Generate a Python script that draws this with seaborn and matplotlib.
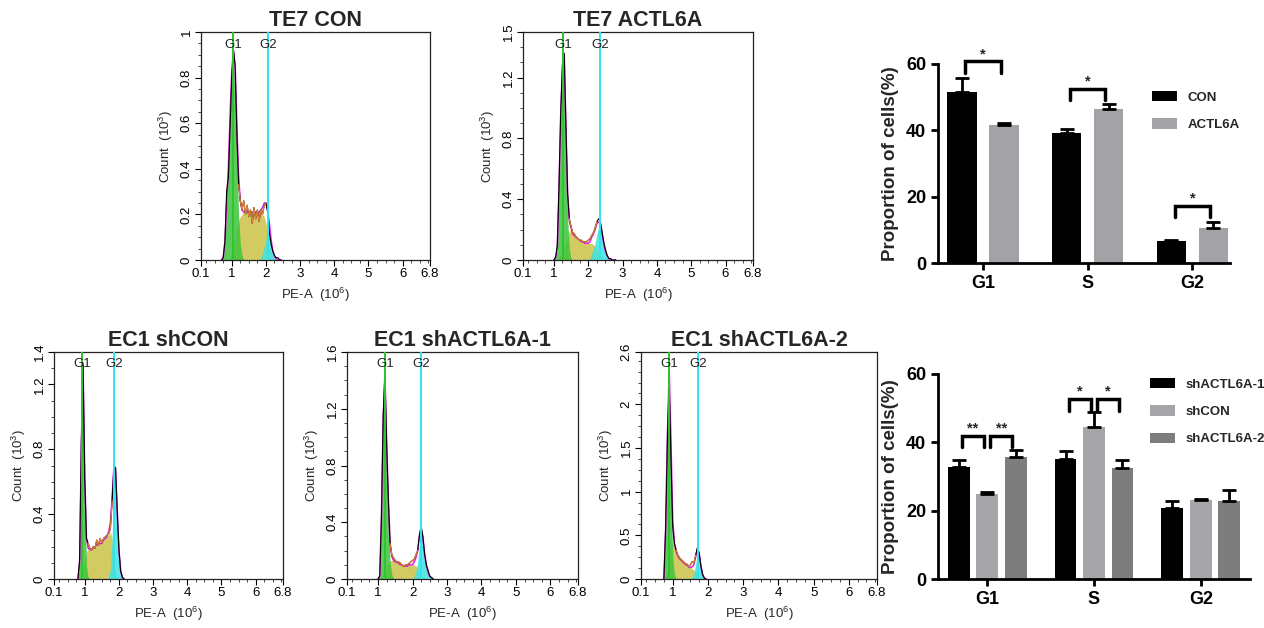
import numpy as np
import pandas as pd
import matplotlib
matplotlib.use("Agg")
import matplotlib.pyplot as plt
from matplotlib.patches import Patch
from matplotlib.ticker import MultipleLocator
import seaborn as sns

# ── DATA ──────────────────────────────────────────────────────────────────────
PHASES = ["G1", "S", "G2"]

# TE7 bar chart (mean, upper SD)
TE7_GROUPS = ["CON", "ACTL6A"]
TE7_MEAN_CON = [51.5, 39.1, 6.6]
TE7_ERR_CON = [4.2, 1.2, 0.4]
TE7_MEAN_ACTL6A = [41.7, 46.4, 10.6]
TE7_ERR_ACTL6A = [0.5, 1.5, 1.8]
TE7_SIG_Y = [60.8, 52.4, 17.2]
TE7_SIG_TXT = ["*", "*", "*"]

# EC1 bar chart
EC1_GROUPS = ["shACTL6A-1", "shCON", "shACTL6A-2"]
EC1_MEAN_SH1 = [32.9, 35.2, 20.7]
EC1_ERR_SH1 = [1.8, 2.2, 2.0]
EC1_MEAN_SHCON = [24.8, 44.6, 23.1]
EC1_ERR_SHCON = [0.7, 4.2, 0.3]
EC1_MEAN_SH2 = [35.8, 32.6, 22.8]
EC1_ERR_SH2 = [2.0, 2.3, 3.2]
EC1_SIG_Y = [41.9, 52.6]          # G1, S
EC1_SIG_TXT = ["**", "*"]

# flow histograms: PE-A (10^6) grid, raw counts and fitted G1 / S / G2 parts (10^3)
TE7CON_X = [0.70, 0.75, 0.80, 0.85, 0.90, 0.95, 1.00, 1.05, 1.10, 1.15, 1.20, 1.25,
            1.30, 1.35, 1.40, 1.45, 1.50, 1.55, 1.60, 1.65, 1.70, 1.75, 1.80, 1.85,
            1.90, 1.95, 2.00, 2.05, 2.10, 2.15, 2.20, 2.25, 2.30, 2.35, 2.40, 2.45]
TE7CON_TOTAL = [0.00, 0.01, 0.08, 0.30, 0.36, 0.58, 0.80, 0.92, 0.85, 0.55, 0.33, 0.26,
                0.22, 0.26, 0.20, 0.24, 0.19, 0.22, 0.16, 0.23, 0.18, 0.22, 0.17, 0.22,
                0.20, 0.24, 0.25, 0.21, 0.12, 0.07, 0.04, 0.02, 0.01, 0.01, 0.00, 0.00]
TE7CON_G1 = [0.00, 0.01, 0.08, 0.25, 0.40, 0.62, 0.80, 0.86, 0.75, 0.45, 0.20, 0.07,
             0.02, 0.00, 0.00, 0.00, 0.00, 0.00, 0.00, 0.00, 0.00, 0.00, 0.00, 0.00,
             0.00, 0.00, 0.00, 0.00, 0.00, 0.00, 0.00, 0.00, 0.00, 0.00, 0.00, 0.00]
TE7CON_S = [0.00, 0.00, 0.00, 0.00, 0.00, 0.01, 0.03, 0.06, 0.10, 0.14, 0.17, 0.19,
            0.20, 0.21, 0.21, 0.21, 0.21, 0.21, 0.21, 0.21, 0.21, 0.21, 0.21, 0.21,
            0.20, 0.19, 0.16, 0.11, 0.06, 0.03, 0.01, 0.00, 0.00, 0.00, 0.00, 0.00]
TE7CON_G2 = [0.00, 0.00, 0.00, 0.00, 0.00, 0.00, 0.00, 0.00, 0.00, 0.00, 0.00, 0.00,
             0.00, 0.00, 0.00, 0.00, 0.00, 0.00, 0.00, 0.00, 0.00, 0.00, 0.00, 0.01,
             0.03, 0.06, 0.09, 0.11, 0.10, 0.06, 0.03, 0.015, 0.005, 0.00, 0.00, 0.00]
TE7CON_GATES = [1.04, 2.07]

TE7A_X = [1.00, 1.05, 1.10, 1.15, 1.20, 1.25, 1.30, 1.35, 1.40, 1.45, 1.50, 1.55,
          1.60, 1.65, 1.70, 1.75, 1.80, 1.85, 1.90, 1.95, 2.00, 2.05, 2.10, 2.15,
          2.20, 2.25, 2.30, 2.35, 2.40, 2.45, 2.50, 2.55, 2.60, 2.65, 2.70, 2.75, 2.80]
TE7A_TOTAL = [0.00, 0.02, 0.10, 0.50, 0.98, 1.28, 1.36, 0.88, 0.44, 0.27, 0.22, 0.18,
              0.17, 0.15, 0.14, 0.13, 0.13, 0.12, 0.12, 0.12, 0.13, 0.14, 0.16, 0.18,
              0.21, 0.25, 0.27, 0.26, 0.19, 0.12, 0.07, 0.03, 0.01, 0.01, 0.00, 0.00, 0.00]
TE7A_G1 = [0.00, 0.01, 0.08, 0.45, 0.93, 1.22, 1.28, 0.78, 0.28, 0.07, 0.01, 0.00,
           0.00, 0.00, 0.00, 0.00, 0.00, 0.00, 0.00, 0.00, 0.00, 0.00, 0.00, 0.00,
           0.00, 0.00, 0.00, 0.00, 0.00, 0.00, 0.00, 0.00, 0.00, 0.00, 0.00, 0.00, 0.00]
TE7A_S = [0.00, 0.00, 0.00, 0.02, 0.04, 0.06, 0.08, 0.11, 0.15, 0.19, 0.20, 0.17,
          0.16, 0.15, 0.14, 0.13, 0.12, 0.12, 0.11, 0.11, 0.11, 0.11, 0.11, 0.10,
          0.09, 0.07, 0.04, 0.02, 0.01, 0.00, 0.00, 0.00, 0.00, 0.00, 0.00, 0.00, 0.00]
TE7A_G2 = [0.00, 0.00, 0.00, 0.00, 0.00, 0.00, 0.00, 0.00, 0.00, 0.00, 0.00, 0.00,
           0.00, 0.00, 0.00, 0.00, 0.00, 0.00, 0.00, 0.00, 0.00, 0.01, 0.04, 0.07,
           0.11, 0.17, 0.21, 0.22, 0.17, 0.11, 0.06, 0.03, 0.01, 0.00, 0.00, 0.00, 0.00]
TE7A_GATES = [1.27, 2.34]

SHCON_X = [0.80, 0.85, 0.90, 0.95, 1.00, 1.05, 1.10, 1.15, 1.20, 1.25, 1.30, 1.35,
           1.40, 1.45, 1.50, 1.55, 1.60, 1.65, 1.70, 1.75, 1.80, 1.85, 1.90, 1.95,
           2.00, 2.05, 2.10, 2.15]
SHCON_TOTAL = [0.00, 0.12, 0.85, 1.32, 0.62, 0.25, 0.22, 0.19, 0.18, 0.20, 0.19, 0.24,
               0.21, 0.25, 0.22, 0.25, 0.26, 0.27, 0.28, 0.31, 0.48, 0.68, 0.69, 0.42,
               0.18, 0.05, 0.01, 0.00]
SHCON_G1 = [0.00, 0.10, 0.80, 1.25, 0.50, 0.08, 0.01, 0.00, 0.00, 0.00, 0.00, 0.00,
            0.00, 0.00, 0.00, 0.00, 0.00, 0.00, 0.00, 0.00, 0.00, 0.00, 0.00, 0.00,
            0.00, 0.00, 0.00, 0.00]
SHCON_S = [0.00, 0.00, 0.02, 0.08, 0.13, 0.17, 0.18, 0.18, 0.18, 0.19, 0.20, 0.21,
           0.21, 0.22, 0.22, 0.24, 0.25, 0.26, 0.27, 0.29, 0.25, 0.10, 0.02, 0.00,
           0.00, 0.00, 0.00, 0.00]
SHCON_G2 = [0.00, 0.00, 0.00, 0.00, 0.00, 0.00, 0.00, 0.00, 0.00, 0.00, 0.00, 0.00,
            0.00, 0.00, 0.00, 0.00, 0.00, 0.00, 0.02, 0.06, 0.25, 0.58, 0.66, 0.42,
            0.18, 0.05, 0.01, 0.00]
SHCON_GATES = [0.93, 1.85]

SH1_X = [1.00, 1.05, 1.10, 1.15, 1.20, 1.25, 1.30, 1.35, 1.40, 1.45, 1.50, 1.55,
         1.60, 1.65, 1.70, 1.75, 1.80, 1.85, 1.90, 1.95, 2.00, 2.05, 2.10, 2.15,
         2.20, 2.25, 2.30, 2.35, 2.40, 2.45, 2.50, 2.55, 2.60]
SH1_TOTAL = [0.00, 0.02, 0.45, 1.15, 1.45, 0.95, 0.55, 0.25, 0.17, 0.15, 0.13, 0.12,
             0.12, 0.11, 0.10, 0.09, 0.10, 0.10, 0.11, 0.12, 0.13, 0.14, 0.17, 0.20,
             0.31, 0.37, 0.30, 0.18, 0.10, 0.06, 0.02, 0.01, 0.00]
SH1_G1 = [0.00, 0.02, 0.42, 1.10, 1.40, 0.88, 0.45, 0.12, 0.03, 0.00, 0.00, 0.00,
          0.00, 0.00, 0.00, 0.00, 0.00, 0.00, 0.00, 0.00, 0.00, 0.00, 0.00, 0.00,
          0.00, 0.00, 0.00, 0.00, 0.00, 0.00, 0.00, 0.00, 0.00]
SH1_S = [0.00, 0.00, 0.01, 0.03, 0.05, 0.08, 0.11, 0.13, 0.13, 0.13, 0.12, 0.12,
         0.11, 0.10, 0.10, 0.09, 0.09, 0.09, 0.10, 0.10, 0.10, 0.10, 0.09, 0.08,
         0.05, 0.02, 0.01, 0.00, 0.00, 0.00, 0.00, 0.00, 0.00]
SH1_G2 = [0.00, 0.00, 0.00, 0.00, 0.00, 0.00, 0.00, 0.00, 0.00, 0.00, 0.00, 0.00,
          0.00, 0.00, 0.00, 0.00, 0.00, 0.00, 0.00, 0.00, 0.00, 0.02, 0.06, 0.12,
          0.25, 0.34, 0.29, 0.18, 0.10, 0.05, 0.02, 0.01, 0.00]
SH1_GATES = [1.20, 2.24]

SH2_X = [0.75, 0.80, 0.85, 0.90, 0.95, 1.00, 1.05, 1.10, 1.15, 1.20, 1.25, 1.30,
         1.35, 1.40, 1.45, 1.50, 1.55, 1.60, 1.65, 1.70, 1.75, 1.80, 1.85, 1.90, 1.95]
SH2_TOTAL = [0.00, 0.60, 1.60, 2.25, 1.40, 0.60, 0.40, 0.33, 0.27, 0.24, 0.22, 0.20,
             0.18, 0.17, 0.15, 0.16, 0.20, 0.18, 0.27, 0.36, 0.30, 0.15, 0.05, 0.01, 0.00]
SH2_G1 = [0.00, 0.55, 1.55, 2.15, 1.20, 0.25, 0.05, 0.00, 0.00, 0.00, 0.00, 0.00,
          0.00, 0.00, 0.00, 0.00, 0.00, 0.00, 0.00, 0.00, 0.00, 0.00, 0.00, 0.00, 0.00]
SH2_S = [0.00, 0.02, 0.10, 0.25, 0.40, 0.42, 0.36, 0.31, 0.26, 0.23, 0.21, 0.19,
         0.17, 0.16, 0.14, 0.13, 0.12, 0.10, 0.08, 0.04, 0.01, 0.00, 0.00, 0.00, 0.00]
SH2_G2 = [0.00, 0.00, 0.00, 0.00, 0.00, 0.00, 0.00, 0.00, 0.00, 0.00, 0.00, 0.00,
          0.00, 0.00, 0.00, 0.00, 0.02, 0.06, 0.17, 0.30, 0.29, 0.15, 0.05, 0.01, 0.00]
SH2_GATES = [0.90, 1.72]

X_TICKS = [0.1, 1, 2, 3, 4, 5, 6, 6.8]
X_TICKLABELS = ["0.1", "1", "2", "3", "4", "5", "6", "6.8"]

# ── STYLE ─────────────────────────────────────────────────────────────────────
GREEN = "#3cc43c"
GREEN_LINE = "#2fc42f"
OLIVE = "#d2cb62"
CYAN = "#3fe3e0"
CYAN_LINE = "#30e4f2"
MAGENTA = "#e020e0"
ORANGE = "#e07f3a"

sns.set_theme(style="ticks")
plt.rcParams["font.family"] = ["Liberation Sans", "DejaVu Sans"]
plt.rcParams["mathtext.fontset"] = "custom"
plt.rcParams["mathtext.rm"] = "Liberation Sans"
plt.rcParams["mathtext.it"] = "Liberation Sans:italic"
plt.rcParams["mathtext.bf"] = "Liberation Sans:bold"

fig = plt.figure(figsize=(12.64, 6.28), dpi=100, facecolor="white")
W, H = 1264, 628


def rect(l, t, r, b):
    # pixel box -> figure fraction
    return [l / W, (H - b) / H, (r - l) / W, (b - t) / H]


def flow_panel(box, title, x, total, g1, s, g2, gates, ymax, yticks, ylabels):
    ax = fig.add_axes(box)
    ax.fill_between(x, s, color=OLIVE, lw=0, zorder=1)
    ax.fill_between(x, g1, color=GREEN, alpha=0.85, lw=0, zorder=2)
    ax.fill_between(x, g2, color=CYAN, alpha=0.85, lw=0, zorder=2)
    fit = np.array(g1) + np.array(s) + np.array(g2)
    sns.lineplot(x=x, y=fit, ax=ax, color=MAGENTA, lw=1.1, zorder=3)
    sns.lineplot(x=x, y=total, ax=ax, color="black", lw=0.8, zorder=4)
    xs, ys = np.array(x), np.array(total)
    mid = (xs > gates[0] + 0.15) & (xs < gates[1] - 0.04)
    sns.lineplot(x=xs[mid], y=ys[mid], ax=ax, color=ORANGE, lw=0.9, zorder=5)

    ax.axvline(gates[0], color=GREEN_LINE, lw=1.4, zorder=6)
    ax.axvline(gates[1], color=CYAN_LINE, lw=1.4, zorder=6)
    for gx, lab in zip(gates, ["G1", "G2"]):
        ax.text(gx, 0.945, lab, transform=ax.get_xaxis_transform(),
                ha="center", va="center", fontsize=9.5, color="#222222", zorder=7)

    ax.set_xlim(0.1, 6.8)
    ax.set_ylim(0, ymax)
    ax.set_xticks(X_TICKS)
    ax.set_xticklabels(X_TICKLABELS)
    ax.xaxis.set_minor_locator(MultipleLocator(0.25))
    ax.set_yticks(yticks)
    ax.set_yticklabels(ylabels, rotation=90, va="center")
    ax.yaxis.set_minor_locator(MultipleLocator(yticks[1] / 4))
    ax.tick_params(axis="both", which="major", direction="out", length=4, width=0.8,
                   labelsize=9.5, colors="black", pad=2)
    ax.tick_params(axis="both", which="minor", direction="out", length=2, width=0.6)
    for sp in ax.spines.values():
        sp.set_linewidth(0.9)
        sp.set_color("#222222")
    ax.set_xlabel("PE-A  (10$^{6}$)", fontsize=9.5, labelpad=4)
    ax.set_ylabel("Count  (10$^{3}$)", fontsize=9.5, labelpad=4)
    ax.set_title(title, fontsize=15.5, fontweight="bold", pad=4)
    return ax


def bar_panel(box, groups, means, errs, colors, gap, xlim, sig_pairs, sig_y, sig_txt,
              leg_xy):
    df = pd.DataFrame({
        "phase": PHASES * len(groups),
        "group": [g for g in groups for _ in PHASES],
        "value": [v for m in means for v in m],
    })
    ax = fig.add_axes(box)
    sns.barplot(data=df, x="phase", y="value", hue="group", order=PHASES,
                hue_order=groups, palette=colors, saturation=1, width=0.8, gap=gap,
                errorbar=None, linewidth=0, legend=False, ax=ax)

    centers = []
    for cont, m, e in zip(ax.containers, means, errs):
        cx = [p.get_x() + p.get_width() / 2 for p in cont]
        centers.append(cx)
        ax.errorbar(cx, m, yerr=[np.zeros(len(e)), e], fmt="none", ecolor="black",
                    elinewidth=2, capsize=5, capthick=2, zorder=5)

    # significance brackets
    for (ga, gb, ph), y, t in zip(sig_pairs, sig_y, sig_txt):
        x0 = centers[ga][ph] + 0.03
        x1 = centers[gb][ph] - 0.03
        leg = 3.4
        ax.plot([x0, x0, x1, x1], [y - leg, y, y, y - leg], color="black", lw=2.5,
                clip_on=False, solid_joinstyle="miter", zorder=6)
        ax.text((x0 + x1) / 2, y + 0.1, t, ha="center", va="bottom", fontsize=10.5,
                fontweight="bold", clip_on=False)

    ax.set_xlim(*xlim)
    ax.set_ylim(0, 60)
    ax.set_yticks([0, 20, 40, 60])
    ax.set_xlabel("")
    ax.set_ylabel("Proportion of cells(%)", fontsize=13.5, fontweight="bold", labelpad=5)
    sns.despine(ax=ax)
    for sp in ["left", "bottom"]:
        ax.spines[sp].set_linewidth(2)
        ax.spines[sp].set_color("black")
    ax.tick_params(axis="both", length=5, width=2, labelsize=13, colors="black")
    for lab in ax.get_xticklabels() + ax.get_yticklabels():
        lab.set_fontweight("bold")

    handles = [Patch(facecolor=c, edgecolor="none") for c in colors]
    ax.legend(handles, groups, loc="upper left", bbox_to_anchor=leg_xy,
              bbox_transform=fig.transFigure, frameon=False,
              prop={"weight": "bold", "size": 9.5}, handlelength=1.9, handleheight=0.8,
              handletextpad=0.8, labelspacing=1.1, borderaxespad=0)
    return ax


# ── TOP ROW ───────────────────────────────────────────────────────────────────
flow_panel(rect(201, 32, 430, 260), "TE7 CON", TE7CON_X, TE7CON_TOTAL, TE7CON_G1,
           TE7CON_S, TE7CON_G2, TE7CON_GATES, 1.0,
           [0, 0.2, 0.4, 0.6, 0.8, 1.0], ["0", "0.2", "0.4", "0.6", "0.8", "1"])
flow_panel(rect(523, 32, 753, 260), "TE7 ACTL6A", TE7A_X, TE7A_TOTAL, TE7A_G1,
           TE7A_S, TE7A_G2, TE7A_GATES, 1.5,
           [0, 0.4, 0.8, 1.2, 1.5], ["0", "0.4", "0.8", "1.2", "1.5"])

bar_panel(rect(938, 64, 1230, 263), TE7_GROUPS,
          [TE7_MEAN_CON, TE7_MEAN_ACTL6A], [TE7_ERR_CON, TE7_ERR_ACTL6A],
          ["#000000", "#a3a3a7"], 0.30, (-0.43, 2.36),
          [(0, 1, 0), (0, 1, 1), (0, 1, 2)], TE7_SIG_Y, TE7_SIG_TXT,
          (1147 / W, (H - 86) / H))

# ── BOTTOM ROW ────────────────────────────────────────────────────────────────
flow_panel(rect(54, 352, 283, 579), "EC1 shCON", SHCON_X, SHCON_TOTAL, SHCON_G1,
           SHCON_S, SHCON_G2, SHCON_GATES, 1.4,
           [0, 0.4, 0.8, 1.2, 1.4], ["0", "0.4", "0.8", "1.2", "1.4"])
flow_panel(rect(347, 352, 578, 579), "EC1 shACTL6A-1", SH1_X, SH1_TOTAL, SH1_G1,
           SH1_S, SH1_G2, SH1_GATES, 1.6,
           [0, 0.4, 0.8, 1.2, 1.6], ["0", "0.4", "0.8", "1.2", "1.6"])
flow_panel(rect(641, 352, 877, 579), "EC1 shACTL6A-2", SH2_X, SH2_TOTAL, SH2_G1,
           SH2_S, SH2_G2, SH2_GATES, 2.6,
           [0, 0.5, 1, 1.5, 2, 2.6], ["0", "0.5", "1", "1.5", "2", "2.6"])

bar_panel(rect(938, 374, 1250, 579), EC1_GROUPS,
          [EC1_MEAN_SH1, EC1_MEAN_SHCON, EC1_MEAN_SH2],
          [EC1_ERR_SH1, EC1_ERR_SHCON, EC1_ERR_SH2],
          ["#000000", "#a6a6aa", "#7d7d7d"], 0.23, (-0.46, 2.46),
          [(0, 1, 0), (1, 2, 0), (0, 1, 1), (1, 2, 1)],
          [EC1_SIG_Y[0], EC1_SIG_Y[0], EC1_SIG_Y[1], EC1_SIG_Y[1]],
          [EC1_SIG_TXT[0], EC1_SIG_TXT[0], EC1_SIG_TXT[1], EC1_SIG_TXT[1]],
          (1145 / W, (H - 373) / H))

fig.savefig("out.png", dpi=100, facecolor="white")
